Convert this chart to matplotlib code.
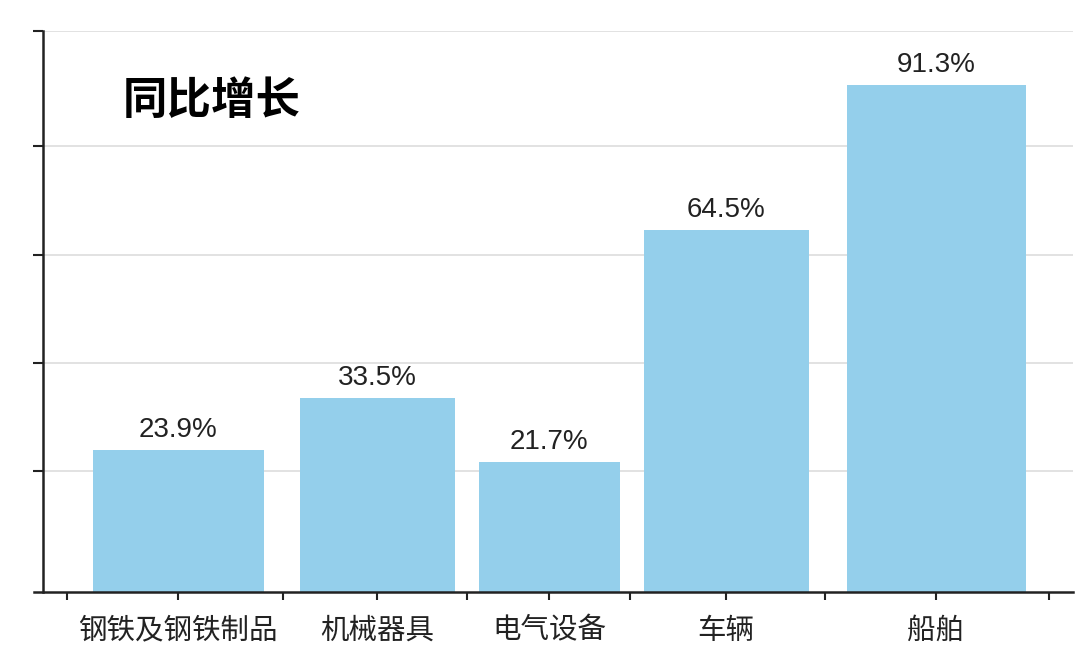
import matplotlib
matplotlib.use("Agg")
import matplotlib.pyplot as plt
import numpy as np

# data
categories = ["钢铁及钢铁制品", "机械器具", "电气设备", "车辆", "船舶"]
growth = [23.9, 33.5, 21.7, 64.5, 91.3]
value_labels = ["23.9%", "33.5%", "21.7%", "64.5%", "91.3%"]
title_text = "同比增长"

# layout (x in pixel-like units across the axes, the original is unevenly spaced)
bar_centers = [135, 334, 506, 683, 893]
bar_widths = [171, 155, 141, 165, 179]
slot_edges = [24, 240, 424, 587, 782, 1006]
x_span = 1030
y_lo, y_hi = -2.3, 101.3

bar_color = "#94cfeb"
ink = "#222222"
cjk = ["Noto Sans CJK SC", "DejaVu Sans"]

fig = plt.figure(figsize=(10.8, 6.55), dpi=100)
ax = fig.add_axes([43 / 1080, 1 - 592 / 655, x_span / 1080, (592 - 31) / 655])

ax.bar(bar_centers, np.array(growth) - y_lo, bottom=y_lo, width=bar_widths,
       color=bar_color, edgecolor="none", zorder=2)

for x, v, lab in zip(bar_centers, growth, value_labels):
    ax.annotate(lab, (x, v), xytext=(0, 5), textcoords="offset points",
                ha="center", va="bottom", fontsize=20, color=ink,
                family=["Liberation Sans", "DejaVu Sans"])

ax.set_xlim(0, x_span)
ax.set_ylim(y_lo, y_hi)
ax.set_yticks([20, 40, 60, 80, y_hi])
ax.set_yticklabels([])
ax.yaxis.grid(True, color="#dddddd", linewidth=1.2, zorder=0)
ax.set_axisbelow(True)

ax.set_xticks(bar_centers)
ax.set_xticklabels(categories, fontsize=20.5, color=ink, family=cjk)
ax.set_xticks(slot_edges, minor=True)
ax.tick_params(axis="x", which="both", length=6, width=1.5, color=ink, pad=11)
ax.tick_params(axis="y", length=7, width=1.5, color=ink)

for side in ["top", "right"]:
    ax.spines[side].set_visible(False)
for side in ["left", "bottom"]:
    ax.spines[side].set_linewidth(1.8)
    ax.spines[side].set_color(ink)
ax.spines["bottom"].set_bounds(-9, x_span)

fig.text(123 / 1080, 1 - 101 / 655, title_text, fontsize=32, fontweight="bold",
         color="black", family=cjk, va="center", ha="left")

fig.savefig("out.png", dpi=100, facecolor="white")
